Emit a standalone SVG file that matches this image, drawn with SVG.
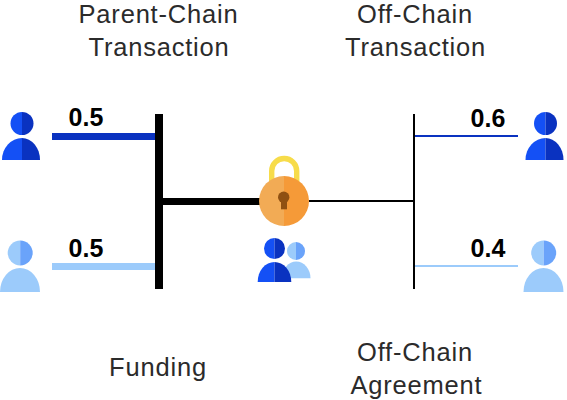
<svg xmlns="http://www.w3.org/2000/svg" width="567" height="400" viewBox="0 0 567 400">
<style>
.t{font-family:"Liberation Sans",Arial,sans-serif;font-size:25.500px;letter-spacing:.8px;fill:#2b2b2b;text-anchor:middle}
.n{font-family:"Liberation Sans",Arial,sans-serif;font-size:25px;font-weight:700;fill:#000;text-anchor:middle}
.a{fill:#1450f5}.b{fill:#0a32c0}.c{fill:#9ccbfb}.d{fill:#6aa3fa}
</style>
<defs>
<g id="dark"><path class="a" d="M22 112a11.500 11.500 0 0 0 0 23z"/><path class="b" d="M22 112a11.500 11.500 0 0 1 0 23z"/><path class="a" d="M22 138A20 22 0 0 0 2 160H22z"/><path class="b" d="M22 138A18 22 0 0 1 40 160H22z"/></g>
<g id="light"><path class="c" d="M20.200 240.500a12.500 12.500 0 0 0 0 25z"/><path class="d" d="M20.200 240.500a12.500 12.500 0 0 1 0 25z"/><path class="c" d="M0 292A20 24 0 0 1 40 292z"/></g>
</defs>
<g id="connectors">
<rect x="52" y="133" width="103" height="7" fill="#0a32c0"/>
<rect x="52" y="263" width="103" height="7" fill="#9ccbfb"/>
<rect x="155" y="114" width="8" height="175" fill="#000"/>
<rect x="163" y="198" width="97" height="7" fill="#000"/>
<rect x="309" y="200" width="105" height="2" fill="#000"/>
<rect x="413" y="114" width="2" height="175" fill="#000"/>
<rect x="415" y="135" width="103" height="2" fill="#0a32c0"/>
<rect x="415" y="265" width="103" height="2" fill="#9ccbfb"/>
</g>
<g id="user-top-left"><use href="#dark"/></g>
<g id="user-bottom-left"><use href="#light"/></g>
<g id="user-top-right"><use href="#dark" x="523.500"/></g>
<g id="user-bottom-right"><use href="#light" x="523.500"/></g>
<g id="lock">
<path d="M271.700 185V171a12.500 12.500 0 0 1 25 0V185" fill="none" stroke="#f7dc4a" stroke-width="5.400"/>
<path d="M284 176a25 25 0 0 0 0 50z" fill="#f2ab55"/>
<path d="M284 176a25 25 0 0 1 0 50z" fill="#f59a38"/>
<circle cx="283.700" cy="197.300" r="5.700" fill="#8f5012"/>
<rect x="281" y="198" width="6" height="11.300" fill="#8f5012"/>
</g>
<g id="users-center">
<path class="c" d="M296 242a9 9 0 0 0 0 18z"/><path class="d" d="M296 242a9 9 0 0 1 0 18z"/>
<path class="c" d="M282 278.300A14 16.500 0 0 1 310.500 278.300z"/>
<path class="a" d="M274.500 238a10.500 10.500 0 0 0 0 21z"/><path class="b" d="M274.500 238a10.500 10.500 0 0 1 0 21z"/>
<path class="a" d="M274.500 262A16.800 20 0 0 0 257.700 282H274.500z"/><path class="b" d="M274.500 262A16.800 20 0 0 1 291.300 282H274.500z"/>
</g>
<g id="labels">
<text class="t" x="158.500" y="23">Parent-Chain</text>
<text class="t" x="159" y="55.500">Transaction</text>
<text class="t" x="415" y="23">Off-Chain</text>
<text class="t" x="415.500" y="55.500">Transaction</text>
<text class="t" x="158" y="376">Funding</text>
<text class="t" x="415" y="360.500">Off-Chain</text>
<text class="t" x="416.500" y="393.500">Agreement</text>
<text class="n" x="86" y="126">0.5</text>
<text class="n" x="86" y="257">0.5</text>
<text class="n" x="488" y="127">0.6</text>
<text class="n" x="488" y="257">0.4</text>
</g>
</svg>
